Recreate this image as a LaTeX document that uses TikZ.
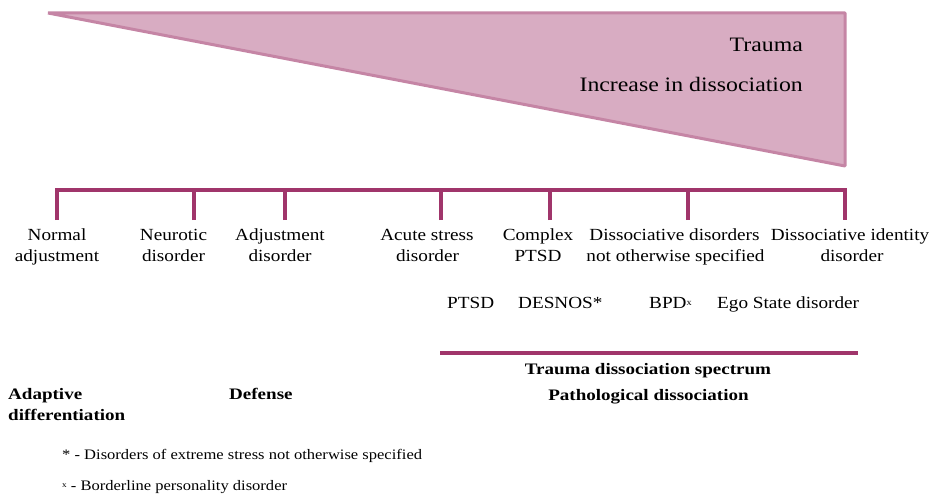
\documentclass[tikz,border=0pt]{standalone}
\usepackage{fontspec}
\setmainfont{Liberation Serif}
\newfontfamily\lblfamily[FakeStretch=1.13]{Liberation Serif}
\newfontfamily\topfamily[FakeStretch=1.16]{Liberation Serif}
\newfontfamily\boldfamily[FakeStretch=1.19]{Liberation Serif}
\newfontfamily\notefamily[FakeStretch=1.14]{Liberation Serif}

\definecolor{wedgefill}{HTML}{D8ACC2}
\definecolor{wedgeline}{HTML}{C585A5}
\definecolor{barcol}{HTML}{A0356B}

\tikzset{
  wedge/.style={draw=wedgeline, fill=wedgefill, line width=3pt, line join=bevel},
  bar/.style={draw=barcol, line width=4pt, line join=miter},
  toptext/.style={inner sep=0pt, anchor=base east, font=\topfamily\fontsize{20.5}{24}\selectfont},
  lbl/.style={inner sep=0pt, anchor=base, font=\lblfamily\fontsize{17}{21}\selectfont},
  lblw/.style={lbl, anchor=base west},
  bold/.style={inner sep=0pt, anchor=base, font=\boldfamily\bfseries\fontsize{16}{20}\selectfont},
  boldw/.style={bold, anchor=base west},
  note/.style={inner sep=0pt, anchor=base west, font=\notefamily\fontsize{14.5}{18}\selectfont}
}

\begin{document}
\begin{tikzpicture}[x=1pt, y=-1pt]
\useasboundingbox (0,0) rectangle (931,495);

% rising wedge
\draw[wedge] (48,13) -- (845,13) -- (845,166) -- cycle;
\node[toptext] (trauma) at (803,52) {Trauma};
\node[toptext] (incr) at (803,91) {Increase in dissociation};

% bracket with tick marks
\coordinate (t1) at (57,220);
\coordinate (t2) at (194,220);
\coordinate (t3) at (285,220);
\coordinate (t4) at (441,220);
\coordinate (t5) at (550,220);
\coordinate (t6) at (688,220);
\coordinate (t7) at (845,220);
\coordinate (barL) at (57,190);
\coordinate (barR) at (845,190);
\draw[bar] (t1) -- (barL) -- (barR) -- (t7);
\foreach \t in {t2,t3,t4,t5,t6}
  \draw[bar] (\t) -- (\t |- barL);

% category labels
\node[lbl] (l1a) at (57,240.7) {Normal};
\node[lbl] (l1b) at (57,261.7) {adjustment};
\node[lbl] (l2a) at (173.5,240.7) {Neurotic};
\node[lbl] (l2b) at (173.5,261.7) {disorder};
\node[lbl] (l3a) at (280,240.7) {Adjustment};
\node[lbl] (l3b) at (280,261.7) {disorder};
\node[lbl] (l4a) at (427,240.7) {Acute stress};
\node[lbl] (l4b) at (427.5,261.7) {disorder};
\node[lbl] (l5a) at (538,240.7) {Complex};
\node[lbl] (l5b) at (538,261.7) {PTSD};
\node[lbl] (l6a) at (674.5,240.7) {Dissociative disorders};
\node[lbl] (l6b) at (675.5,261.7) {not otherwise specified};
\node[lbl] (l7a) at (850,240.7) {Dissociative identity};
\node[lbl] (l7b) at (852,261.7) {disorder};

% related conditions
\node[lblw] (ptsd) at (447,308) {PTSD};
\node[lblw] (desnos) at (518,308) {DESNOS*};
\node[lblw] (bpd) at (649,308) {BPD{\fontsize{9}{10}\selectfont\raisebox{3pt}{x}}};
\node[lblw] (ego) at (717,308) {Ego State disorder};

% spectrum line and headings
\coordinate (specL) at (440,353);
\coordinate (specR) at (858,353);
\draw[bar] (specL) -- (specR);
\node[bold] (spec) at (648,374) {Trauma dissociation spectrum};
\node[bold] (patho) at (648.5,400) {Pathological dissociation};
\node[boldw] (adapt1) at (8,399) {Adaptive};
\node[boldw] (adapt2) at (8,420.7) {differentiation};
\node[boldw] (defense) at (229,399) {Defense};

% footnotes
\node[note] (fn1) at (62,459) {* - Disorders of extreme stress not otherwise specified};
\node[note] (fn2) at (62,490) {{\fontsize{8}{9}\selectfont\raisebox{3pt}{x}} - Borderline personality disorder};
\end{tikzpicture}
\end{document}
